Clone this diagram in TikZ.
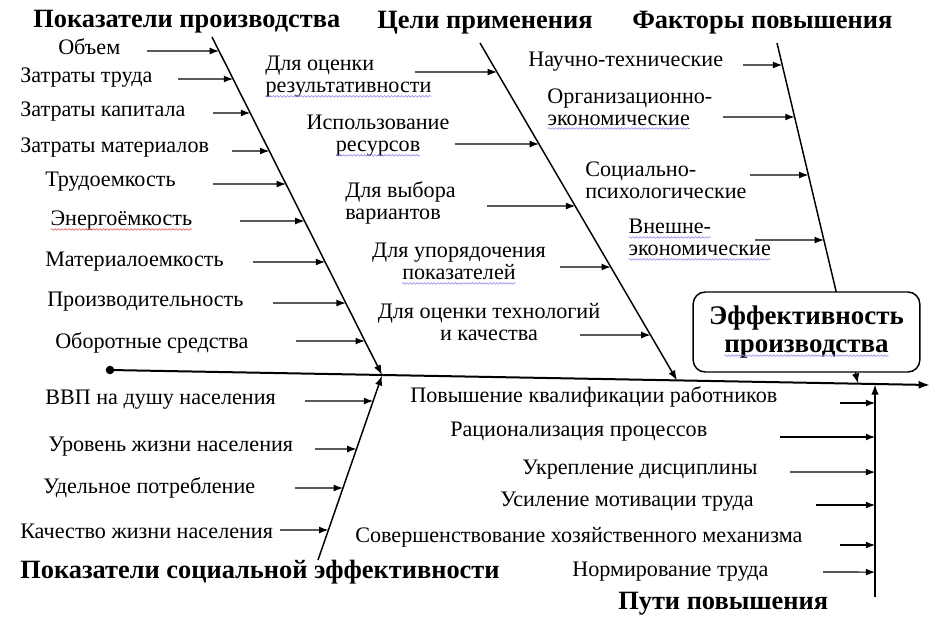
\documentclass[tikz,border=0pt]{standalone}
\usepackage{fontspec}
\setmainfont{Liberation Serif}
\usetikzlibrary{arrows.meta,decorations.pathmorphing}
\definecolor{spellblue}{RGB}{140,140,230}
\definecolor{spellred}{RGB}{230,90,90}
\newcommand\wavyul[2]{\tikz[baseline=(wu.base)]{\node[inner sep=0pt,outer sep=0pt,minimum width=0pt,minimum height=0pt,draw=none,fill=none,rounded corners=0pt](wu){#2};\draw[draw=#1,fill=none,sharp corners,line width=0.45pt,decorate,decoration={snake,amplitude=0.6pt,segment length=2.6pt}]([yshift=-2.6pt]wu.base west)--([yshift=-2.6pt]wu.base east);}}
\newcommand\feed[3]{\draw[feedarr] (#2,#3) -- (intersection of #1t--#1b and #2,#3--0,#3);}
\begin{document}
\begin{tikzpicture}[x=0.75pt,y=-0.75pt,
  lbl/.style={font=\fontsize{16.6}{16.5}\selectfont, inner sep=0pt, anchor=west},
  lblc/.style={font=\fontsize{16.6}{16.5}\selectfont, inner sep=0pt, align=center},
  ttl/.style={font=\fontsize{19.8}{20}\selectfont\bfseries, inner sep=0pt, anchor=west},
  branch/.style={line width=1.1pt},
  branchtip/.style={line width=1.1pt,-{Latex[length=7.5pt,width=5.5pt]}},
  feedarr/.style={line width=0.9pt,-{Latex[length=7pt,width=5.2pt]}}]
\useasboundingbox (0,0) rectangle (945,632);
% spine
\coordinate (sp0) at (110,370);
\coordinate (sp1) at (930,385);
% branches
\coordinate (b1t) at (212,37);  \coordinate (b1b) at (382,375);
\coordinate (b2t) at (480,43);  \coordinate (b2b) at (677,380.4);
\coordinate (b3t) at (777,43);  \coordinate (b3b) at (858,383.5);
\coordinate (b4b) at (318,560); \coordinate (b4t) at (382,375.5);
\coordinate (b5b) at (875,597); \coordinate (b5t) at (875,384.5);

% titles
\node[ttl] (t1) at (33,22) {Показатели производства};
\node[ttl] (t2) at (377,23) {Цели применения};
\node[ttl] (t3) at (632,23) {Факторы повышения};
\node[ttl] (t4) at (20,572) {Показатели социальной эффективности};
\node[ttl] (t5) at (618,604) {Пути повышения};

% branch lines
\draw[branchtip] (b1t) -- (b1b);
\draw[branchtip] (b2t) -- (b2b);
\draw[branchtip] (b3t) -- (b3b);
\draw[branchtip] (b4b) -- (b4t);
\draw[branchtip] (b5b) -- (b5t);

% spine
\draw[line width=1.5pt,-{Latex[length=8.5pt,width=6pt]}] (sp0) -- (sp1);
\fill (sp0) circle (3.2pt);

% result box
\node[draw,line width=1.1pt,rounded corners=9pt,fill=white,minimum width=170pt,minimum height=60pt,
      font=\fontsize{20.2}{20.5}\selectfont\bfseries,align=center] (res) at (806.5,332)
      {Эффективность\\\wavyul{spellblue}{производства}};

% branch 1 labels
\node[lbl] (a1) at (58,47) {Объем};                 \feed{b1}{147}{51}
\node[lbl] (a2) at (20,78) {Затраты труда};         \feed{b1}{178}{79}
\node[lbl] (a3) at (20,112) {Затраты капитала};     \feed{b1}{213}{113}
\node[lbl] (a4) at (20,148) {Затраты материалов};   \feed{b1}{232}{151}
\node[lbl] (a5) at (45,182) {Трудоемкость};         \feed{b1}{213}{184}
\node[lbl] (a6) at (50,221) {\wavyul{spellred}{Энергоёмкость}}; \feed{b1}{240}{221}
\node[lbl] (a7) at (45,262) {Материалоемкость};     \feed{b1}{253}{262}
\node[lbl] (a8) at (47,302) {Производительность};   \feed{b1}{273}{303}
\node[lbl] (a9) at (55,343) {Оборотные средства};   \feed{b1}{296}{341}

% branch 2 labels
\node[lbl,align=left] (c1) at (265,77) {Для оценки\\\wavyul{spellblue}{результативности}}; \feed{b2}{415}{72}
\node[lblc] (c2) at (378,136) {Использование\\\wavyul{spellblue}{ресурсов}}; \feed{b2}{455}{144}
\node[lbl,align=left] (c3) at (345,203) {Для выбора\\вариантов}; \feed{b2}{487}{206}
\node[lblc] (c4) at (459,264) {Для упорядочения\\\wavyul{spellblue}{показателей}}; \feed{b2}{560}{267}
\node[lblc] (c5) at (489,322) {Для оценки технологий\\и качества}; \feed{b2}{580}{335}

% branch 3 labels
\node[lbl] (f1) at (528,62) {Научно-технические}; \feed{b3}{743}{65}
\node[lbl,align=left] (f2) at (547,109) {Организационно-\\\wavyul{spellblue}{экономические}}; \feed{b3}{723}{117}
\node[lbl,align=left] (f3) at (585,180) {Социально-\\психологические}; \feed{b3}{750}{175}
\node[lbl,align=left] (f4) at (628,240) {\wavyul{spellblue}{Внешне-}\\\wavyul{spellblue}{экономические}}; \feed{b3}{755}{240}

% branch 4 labels
\node[lbl] (s1) at (45,400) {ВВП на душу населения};     \feed{b4}{305}{401}
\node[lbl] (s2) at (48,447) {Уровень жизни населения};   \feed{b4}{315}{449}
\node[lbl] (s3) at (43,488) {Удельное потребление};      \feed{b4}{295}{488}
\node[lbl] (s4) at (20,531) {Качество жизни населения};  \feed{b4}{280}{530}

% branch 5 labels
\node[lbl] (p1) at (410,397) {Повышение квалификации работников}; \feed{b5}{840}{403}
\node[lbl] (p2) at (450,432) {Рационализация процессов};          \feed{b5}{780}{437}
\node[lbl] (p3) at (522,470) {Укрепление дисциплины};             \feed{b5}{790}{472}
\node[lbl] (p4) at (500,502) {Усиление мотивации труда};          \feed{b5}{816}{505}
\node[lbl] (p5) at (355,537) {Совершенствование хозяйственного механизма}; \feed{b5}{840}{545}
\node[lbl] (p6) at (572,572) {Нормирование труда};                \feed{b5}{823}{572}
\end{tikzpicture}
\end{document}
